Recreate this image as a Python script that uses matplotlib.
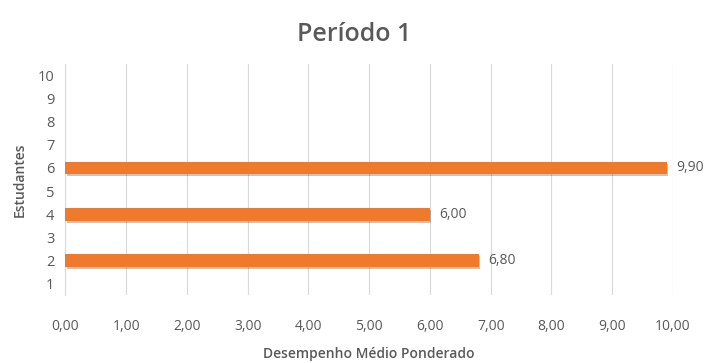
import matplotlib
matplotlib.use("Agg")
import matplotlib.pyplot as plt
import matplotlib.patheffects as pe

plt.rcParams['font.family'] = ['Open Sans', 'DejaVu Sans']

students = [1, 2, 3, 4, 5, 6, 7, 8, 9, 10]
scores = [None, 6.80, None, 6.00, None, 9.90, None, None, None, None]
x_ticks = [0, 1, 2, 3, 4, 5, 6, 7, 8, 9, 10]

bar_color = '#F07A2C'
text_color = '#595959'

fig = plt.figure(figsize=(7.08, 3.63), dpi=100)
ax = fig.add_axes([0.0925, 0.186, 0.858, 0.639])

for s, v in zip(students, scores):
    if v is None:
        continue
    ax.barh(s, v, height=0.55, color=bar_color, zorder=3,
            path_effects=[pe.SimplePatchShadow(offset=(1, -1.5), alpha=0.3, shadow_rgbFace='#404040'),
                          pe.Normal()])
    ax.text(v + 0.16, s, f"{v:.2f}".replace('.', ','), va='center', ha='left',
            fontsize=10, color=text_color)

ax.set_xlim(0, 10)
ax.set_ylim(0.5, 10.5)
ax.set_xticks(x_ticks)
ax.set_xticklabels([f"{t:.2f}".replace('.', ',') for t in x_ticks])
ax.set_yticks(students)
ax.set_yticklabels([str(s) for s in students])
ax.tick_params(axis='both', length=0, labelsize=10, colors=text_color)
ax.tick_params(axis='x', pad=17)
ax.tick_params(axis='y', pad=8, labelsize=10.5)
ax.grid(axis='x', color='#D9D9D9', linewidth=0.8, zorder=0)
for sp in ['top', 'right', 'bottom']:
    ax.spines[sp].set_visible(False)
ax.spines['left'].set_color('#D9D9D9')

ax.set_xlabel('Desempenho Médio Ponderado', fontsize=10, fontweight='semibold',
              color=text_color, labelpad=9)
ax.set_ylabel('Estudantes', fontsize=10, fontweight='semibold', color=text_color, labelpad=8)
fig.suptitle('Período 1', fontsize=18, fontweight='semibold', color=text_color, y=0.94)

fig.savefig('out.png', dpi=100)
